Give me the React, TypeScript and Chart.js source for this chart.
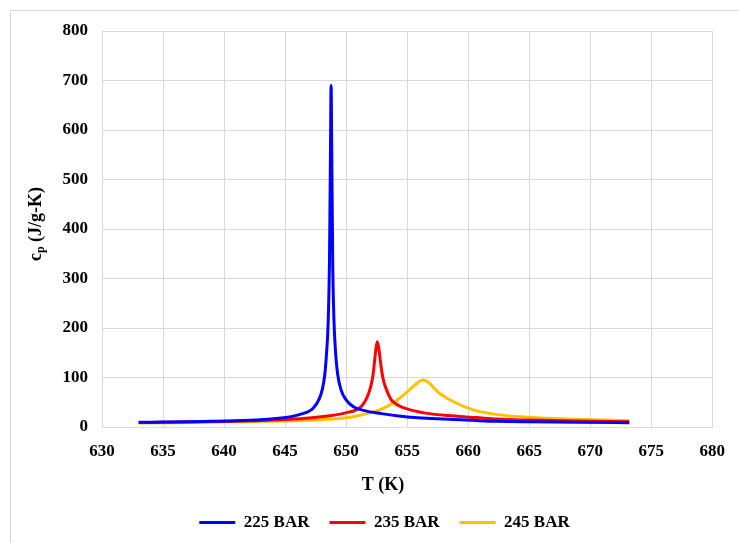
import React, { useEffect, useRef } from "react";
import { Chart, registerables } from "chart.js";

Chart.register(...registerables);

const FONT = '"Liberation Serif", "Times New Roman", Times, serif';

// Specific heat near the pseudo-critical point of water, three pressures
const seriesNames = ["225 BAR", "235 BAR", "245 BAR"];
const seriesColors = ["#0000ff", "#ff0000", "#ffc000"];

const t225 = [633, 635, 637, 639, 641, 643, 644.5, 645.5, 646.3, 646.9, 647.3, 647.8, 648.05, 648.25, 648.4, 648.53, 648.64, 648.72, 648.77, 648.82, 648.9, 649.0, 649.1, 649.3, 649.6, 650.0, 650.6, 651.5, 652.9, 654.5, 655.6, 657.5, 660.7, 662.4, 665, 669, 673.2];
const cp225 = [9.5, 10, 10.5, 11.5, 12.5, 14.5, 17.5, 21, 26, 31, 38, 57, 76, 105, 150, 210, 340, 560, 690, 570, 340, 220, 165, 108, 74, 55, 41, 33, 27, 21.5, 19, 16.5, 13, 11.5, 10.5, 9.5, 8.7];

const t235 = [633, 636, 640, 643, 645, 647, 648.5, 649.5, 650.2, 650.8, 651.3, 651.6, 651.85, 652.05, 652.2, 652.32, 652.43, 652.55, 652.67, 652.8, 652.95, 653.1, 653.3, 653.5, 653.7, 654.0, 654.4, 654.8, 655.5, 656.5, 658.3, 660.7, 662.4, 665, 669, 673.2];
const cp235 = [9, 10, 11.5, 13, 15, 18, 22, 26, 30, 34, 43, 54, 68, 85, 104, 130, 155, 172, 160, 135, 108, 90, 76, 64, 55, 48, 42, 38, 33, 28, 23, 19, 16, 14, 12, 10.5];

const t245 = [633, 636, 640, 644, 647, 649, 650.2, 651.5, 652.9, 654.0, 655.0, 655.7, 656.0, 656.25, 656.55, 656.85, 657.5, 658.8, 660.5, 662.4, 665, 668, 671, 673.2];
const cp245 = [8, 8.5, 10, 11.5, 13.5, 16, 19, 26, 36, 51, 71, 86, 92, 95, 93, 88, 71, 51, 34, 25, 19.6, 16, 14, 12.7];

const temps = [t225, t235, t245];
const heats = [cp225, cp235, cp245];

const xMin = 630;
const xMax = 680;
const xStep = 5;
const yMin = 0;
const yMax = 800;
const yStep = 100;

const xTitle = "T (K)";
const yTitleMain = "c";
const yTitleSub = "p";
const yTitleRest = " (J/g-K)";

// Axis titles drawn by hand: the y title needs a subscripted "p"
const axisTitlePlugin = {
  id: "axisTitles",
  afterDraw(chart: any) {
    const { ctx } = chart;
    const big = `bold 18px ${FONT}`;
    const small = `bold 12px ${FONT}`;
    ctx.save();
    ctx.fillStyle = "#000";
    ctx.textBaseline = "middle";

    ctx.font = big;
    ctx.textAlign = "center";
    ctx.fillText(xTitle, 383, 485);

    ctx.translate(36, 224);
    ctx.rotate(-Math.PI / 2);
    ctx.textAlign = "left";
    const wc = ctx.measureText(yTitleMain).width;
    const wr = ctx.measureText(yTitleRest).width;
    ctx.font = small;
    const wp = ctx.measureText(yTitleSub).width;
    let x = -(wc + wp + wr) / 2;
    ctx.font = big;
    ctx.fillText(yTitleMain, x, 0);
    x += wc;
    ctx.font = small;
    ctx.fillText(yTitleSub, x, 5);
    x += wp;
    ctx.font = big;
    ctx.fillText(yTitleRest, x, 0);
    ctx.restore();
  },
};

export default function App() {
  const canvasRef = useRef<HTMLCanvasElement | null>(null);

  useEffect(() => {
    const canvas = canvasRef.current;
    if (!canvas) return;
    const chart = new Chart(canvas, {
      type: "line",
      data: {
        datasets: seriesNames.map((name, i) => ({
          label: name,
          data: temps[i].map((t, j) => ({ x: t, y: heats[i][j] })),
          borderColor: seriesColors[i],
          backgroundColor: seriesColors[i],
          borderWidth: 3,
          pointRadius: 0,
          pointHoverRadius: 0,
          fill: false,
          cubicInterpolationMode: "monotone" as const,
        })),
      },
      options: {
        responsive: false,
        animation: false,
        devicePixelRatio: 1,
        layout: { padding: { left: 52, right: 22, top: 31, bottom: 2 } },
        plugins: {
          tooltip: { enabled: false },
          legend: {
            position: "bottom",
            labels: {
              usePointStyle: true,
              pointStyle: "line",
              pointStyleWidth: 36,
              color: "#000",
              padding: 20,
              font: { family: FONT, size: 17, weight: "bold" },
            },
          },
        },
        scales: {
          x: {
            type: "linear",
            min: xMin,
            max: xMax,
            ticks: {
              stepSize: xStep,
              color: "#000",
              padding: 14,
              maxRotation: 0,
              font: { family: FONT, size: 17, weight: "bold" },
            },
            grid: { color: "#d9d9d9", lineWidth: 1, drawTicks: false },
            border: { color: "#d9d9d9" },
            afterFit: (scale: any) => {
              scale.height = 67;
            },
          },
          y: {
            min: yMin,
            max: yMax,
            ticks: {
              stepSize: yStep,
              color: "#000",
              padding: 14,
              font: { family: FONT, size: 17, weight: "bold" },
            },
            grid: { color: "#d9d9d9", lineWidth: 1, drawTicks: false },
            border: { color: "#d9d9d9" },
            afterFit: (scale: any) => {
              scale.width = 50;
            },
          },
        },
      },
      plugins: [axisTitlePlugin],
    });
    return () => chart.destroy();
  }, []);

  return (
    <div
      style={{
        position: "fixed",
        left: 0,
        top: 0,
        width: 739,
        height: 543,
        background: "#fff",
        overflow: "hidden",
      }}
    >
      <div
        style={{
          position: "absolute",
          left: 10,
          top: 10,
          width: 800,
          height: 600,
          border: "1px solid #d9d9d9",
        }}
      />
      <canvas
        ref={canvasRef}
        width={739}
        height={543}
        style={{ position: "absolute", left: 0, top: 0 }}
      />
    </div>
  );
}
